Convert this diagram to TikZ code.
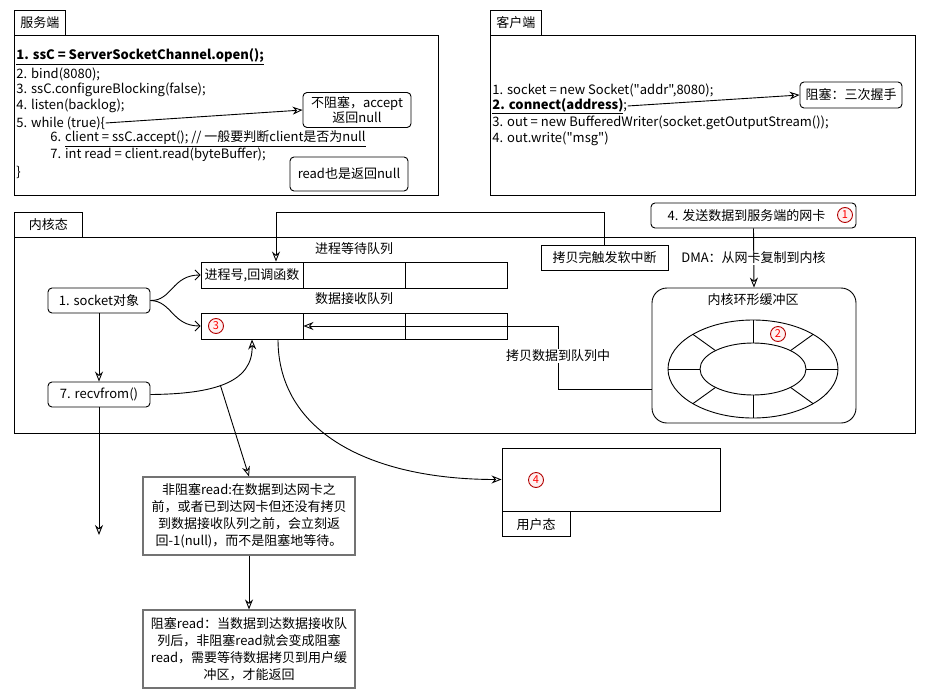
\documentclass[tikz,border=0pt]{standalone}
\usepackage{fontspec}
\setmainfont{Noto Sans CJK SC}[Ligatures=TeXOff]
\usetikzlibrary{arrows.meta}

\begin{document}
\begin{tikzpicture}[x=1pt, y=-1pt, line width=0.9pt, font=\fontsize{13}{16.5}\selectfont,
		every node/.style={inner sep=2pt},
		code/.style={anchor=west, inner sep=0pt},
		tab/.style={rectangle, draw, anchor=north west, minimum height=25pt},
		rbox/.style={rectangle, draw, rounded corners=4pt, align=center},
		sbox/.style={rectangle, draw, align=center},
		gbox/.style={rectangle, draw=black!55, line width=1.1pt, align=center, minimum width=212pt, minimum height=78pt, font=\fontsize{13}{17}\selectfont},
		cell/.style={rectangle, draw, minimum width=102pt, minimum height=26pt, inner sep=1pt},
		numc/.style={circle, draw=red!70!black, fill=red!6, text=red, inner sep=0pt, minimum size=15pt, font=\fontsize{11}{11}\selectfont},
		arr/.style={-{Stealth[open, length=10pt, width=8pt]}},
		barb/.style={-{Straight Barb[length=5pt, width=10pt]}},
		txt/.style={fill=white, inner sep=1pt}]
		\useasboundingbox (0,0) rectangle (925,698);
		%Server
		\node (srvtab) [tab, minimum width=51pt] at (14,10) {服务端};
		\draw (14,35) rectangle (438,195);
		\node (sv1) [code] at (16,57) {\textbf{\underline{1. ssC = ServerSocketChannel.open();}}};
		\node (sv2) [code] at (16,74) {2. bind(8080);};
		\node (sv3) [code] at (16,90) {3. ssC.configureBlocking(false);};
		\node (sv4) [code] at (16,106) {4. listen(backlog);};
		\node (sv5) [code] at (16,123) {5. while (true)\{};
		\node (sv6) [code] at (50,139) {6. \underline{client = ssC.accept(); // 一般要判断client是否为null}};
		\node (sv7) [code] at (50,155) {7. int read = client.read(byteBuffer);};
		\node (sv8) [code] at (16,172) {\}};
		\node (nb) [rbox, minimum width=108pt, minimum height=35pt, font=\fontsize{13}{15}\selectfont] at (357,110) {不阻塞，accept\\返回null};
		\node (rdnull) [rbox, minimum width=118pt, minimum height=34pt] at (349,174) {read也是返回null};
		\draw[arr] (sv5.east) -- (nb.west);
		%Client
		\node (clitab) [tab, minimum width=51pt] at (490,10) {客户端};
		\draw (490,35) rectangle (915,195);
		\node (cl1) [code] at (492,90) {1. socket = new Socket("addr",8080);};
		\node (cl2) [code] at (492,106) {\textbf{\underline{2. connect(address)}};};
		\node (cl3) [code] at (492,123) {3. out = new BufferedWriter(socket.getOutputStream());};
		\node (cl4) [code] at (492,139) {4. out.write("msg")};
		\node (hs) [rbox, minimum width=102pt, minimum height=26pt] at (851,95) {阻塞：三次握手};
		\draw[arr] (cl2.east) -- (hs.west);
		%Kernel
		\node (kertab) [tab, minimum width=68pt] at (14,212) {内核态};
		\draw (14,237) rectangle (915,433);
		\node (nic) [rbox, minimum width=205pt, minimum height=25pt] at (753.5,215.5) {4. 发送数据到服务端的网卡\hspace{14pt}};
		\node (no1) [numc] at (845,215) {1};
		\node (sirq) [sbox, minimum width=127pt, minimum height=25pt] at (604.5,257.5) {拷贝完触发软中断};
		\node (ring) [rectangle, draw, rounded corners=15pt, minimum width=204pt, minimum height=135pt] at (754,355.5) {};
		\node (ringlbl) at (753,300) {内核环形缓冲区};
		\draw (753,369) ellipse [x radius=85, y radius=49];
		\draw (753,369) ellipse [x radius=53, y radius=26];
		\begin{scope}[shift={(753,369)}]
			\foreach \a in {0,45,...,315}
				\draw (\a:53 and 26) -- (\a:85 and 49);
		\end{scope}
		\node (no2) [numc] at (778,334) {2};
		\draw[arr] (nic.south) -- (ring.north);
		\node (dma) [txt] at (753.5,258) {DMA：从网卡复制到内核};
		%Queues
		\node (wq) at (354,249) {进程等待队列};
		\node (w1) [cell] at (252,275) {进程号,回调函数};
		\node (w2) [cell] at (354,275) {};
		\node (w3) [cell] at (456,275) {};
		\node (rq) at (354,299) {数据接收队列};
		\node (r1) [cell] at (252,326) {};
		\node (r2) [cell] at (354,326) {};
		\node (r3) [cell] at (456,326) {};
		\node (no3) [numc] at (216,326) {3};
		\coordinate (bend) at (276,212);
		\draw[arr] (sirq.north) |- (bend) -- (bend |- w1.north);
		\node (cpy) [txt] at (558,356) {拷贝数据到队列中};
		\draw[arr] ([yshift=-33.5pt]ring.west) -| (cpy) |- (r1.east);
		%Socket
		\node (sock) [rbox, minimum width=102pt, minimum height=25pt] at (99,300.5) {1. socket对象};
		\node (rcv) [rbox, minimum width=102pt, minimum height=25pt] at (99,394.5) {7. recvfrom()};
		\draw[barb] (sock.east) .. controls (172,301) and (172,275) .. (w1.west);
		\draw[barb] (sock.east) .. controls (172,301) and (172,326) .. (r1.west);
		\draw[arr] (sock) -- (rcv);
		\draw[arr] (rcv.east) .. controls (215,394) and (253,382) .. (r1.south) coordinate[pos=0.45] (tap);
		\coordinate (rcvend) at (99,535);
		\draw[arr] (rcv.south) -- (rcvend);
		%User
		\node (user) [sbox, minimum width=218pt, minimum height=63pt] at (611,479.5) {};
		\node (usertab) [tab, minimum width=68pt] at (user.south west) {用户态};
		\node (no4) [numc] at (536,480) {4};
		\draw[arr] ([xshift=26pt]r1.south) .. controls (278,432) and (370,479.5) .. (user.west);
		%Read
		\node (nbx) [gbox] at (249,516) {非阻塞read:在数据到达网卡之\\前，或者已到达网卡但还没有拷贝\\到数据接收队列之前，会立刻返\\回-1(null)，而不是阻塞地等待。};
		\node (bk) [gbox] at (249,649) {阻塞read：当数据到达数据接收队\\列后，非阻塞read就会变成阻塞\\read，需要等待数据拷贝到用户缓\\冲区，才能返回};
		\draw[arr] (tap) -- (nbx.north);
		\draw[arr] (nbx) -- (bk);
	\end{tikzpicture}
\end{document}
